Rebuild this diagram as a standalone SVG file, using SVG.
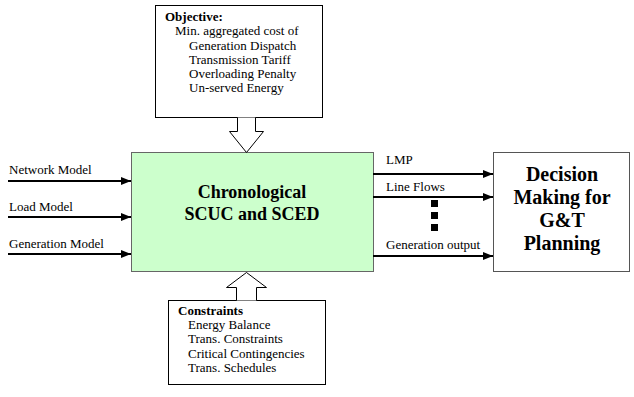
<svg xmlns="http://www.w3.org/2000/svg" width="634" height="397" viewBox="0 0 634 397">
<defs>
<marker id="ah" markerWidth="10" markerHeight="8" refX="10" refY="4" orient="auto" markerUnits="userSpaceOnUse">
<path d="M0,0 L10,4 L0,8 Z" fill="#000"/>
</marker>
<style>
.t{font-family:'Liberation Serif','Times New Roman',serif;font-size:13px;fill:#000}
.b{font-weight:bold}
.c{font-size:18px;text-anchor:middle;font-weight:bold}
.d{font-size:20px;text-anchor:middle;font-weight:bold}
.box{fill:#fff;stroke:#000;stroke-width:1}
.ln{stroke:#000;stroke-width:2;fill:none;marker-end:url(#ah)}
.blk{fill:#ffffff;stroke:#000;stroke-width:1}
.dot{fill:#000}
</style>
</defs>
<rect width="634" height="397" fill="#fff"/>
<g id="objective">
<rect class="box" x="155.5" y="5.5" width="167" height="112"/>
<text class="t b" x="165" y="21">Objective:</text>
<text class="t" x="175" y="35">Min. aggregated cost of</text>
<text class="t" x="189" y="50">Generation Dispatch</text>
<text class="t" x="189" y="64">Transmission Tariff</text>
<text class="t" x="189" y="78">Overloading Penalty</text>
<text class="t" x="189" y="92">Un-served Energy</text>
</g>
<g id="core">
<rect x="131.5" y="152.5" width="242" height="119" fill="#ccffcc" stroke="#666" stroke-width="1"/>
<text class="t c" x="252" y="198">Chronological</text>
<text class="t c" x="252" y="220">SCUC and SCED</text>
</g>
<g id="decision">
<rect x="493.5" y="152.5" width="136" height="119" fill="#fff" stroke="#555" stroke-width="1"/>
<text class="t d" x="562" y="181">Decision</text>
<text class="t d" x="562" y="204">Making for</text>
<text class="t d" x="562" y="227">G&amp;T</text>
<text class="t d" x="562" y="250">Planning</text>
</g>
<g id="constraints">
<rect class="box" x="168.5" y="300.5" width="157" height="84"/>
<text class="t b" x="178" y="315">Constraints</text>
<text class="t" x="188" y="329">Energy Balance</text>
<text class="t" x="188" y="343">Trans. Constraints</text>
<text class="t" x="188" y="358">Critical Contingencies</text>
<text class="t" x="188" y="372">Trans. Schedules</text>
</g>
<g id="labels">
<text class="t" x="9" y="174">Network Model</text>
<text class="t" x="9" y="211">Load Model</text>
<text class="t" x="9" y="248">Generation Model</text>
<text class="t" x="386" y="164">LMP</text>
<text class="t" x="386" y="191">Line Flows</text>
<text class="t" x="386" y="249">Generation output</text>
</g>
<g id="connectors">
<path class="ln" d="M8,181 H131"/>
<path class="ln" d="M8,217 H131"/>
<path class="ln" d="M8,254 H131"/>
<path class="ln" d="M373,174 H493"/>
<path class="ln" d="M373,197 H493"/>
<path class="ln" d="M373,256 H493"/>
<rect class="dot" x="431" y="200" width="7" height="7"/>
<rect class="dot" x="431" y="212" width="7" height="7"/>
<rect class="dot" x="431" y="224" width="7" height="7"/>
<path class="blk" d="M237.5,117.5 V131.5 H229.5 L246.5,152.5 L263.5,131.5 H255.5 V117.5"/>
<path class="blk" d="M236.5,300.5 V287.5 H226.5 L246.5,272.5 L266.5,287.5 H256.5 V300.5"/>
</g>
</svg>
